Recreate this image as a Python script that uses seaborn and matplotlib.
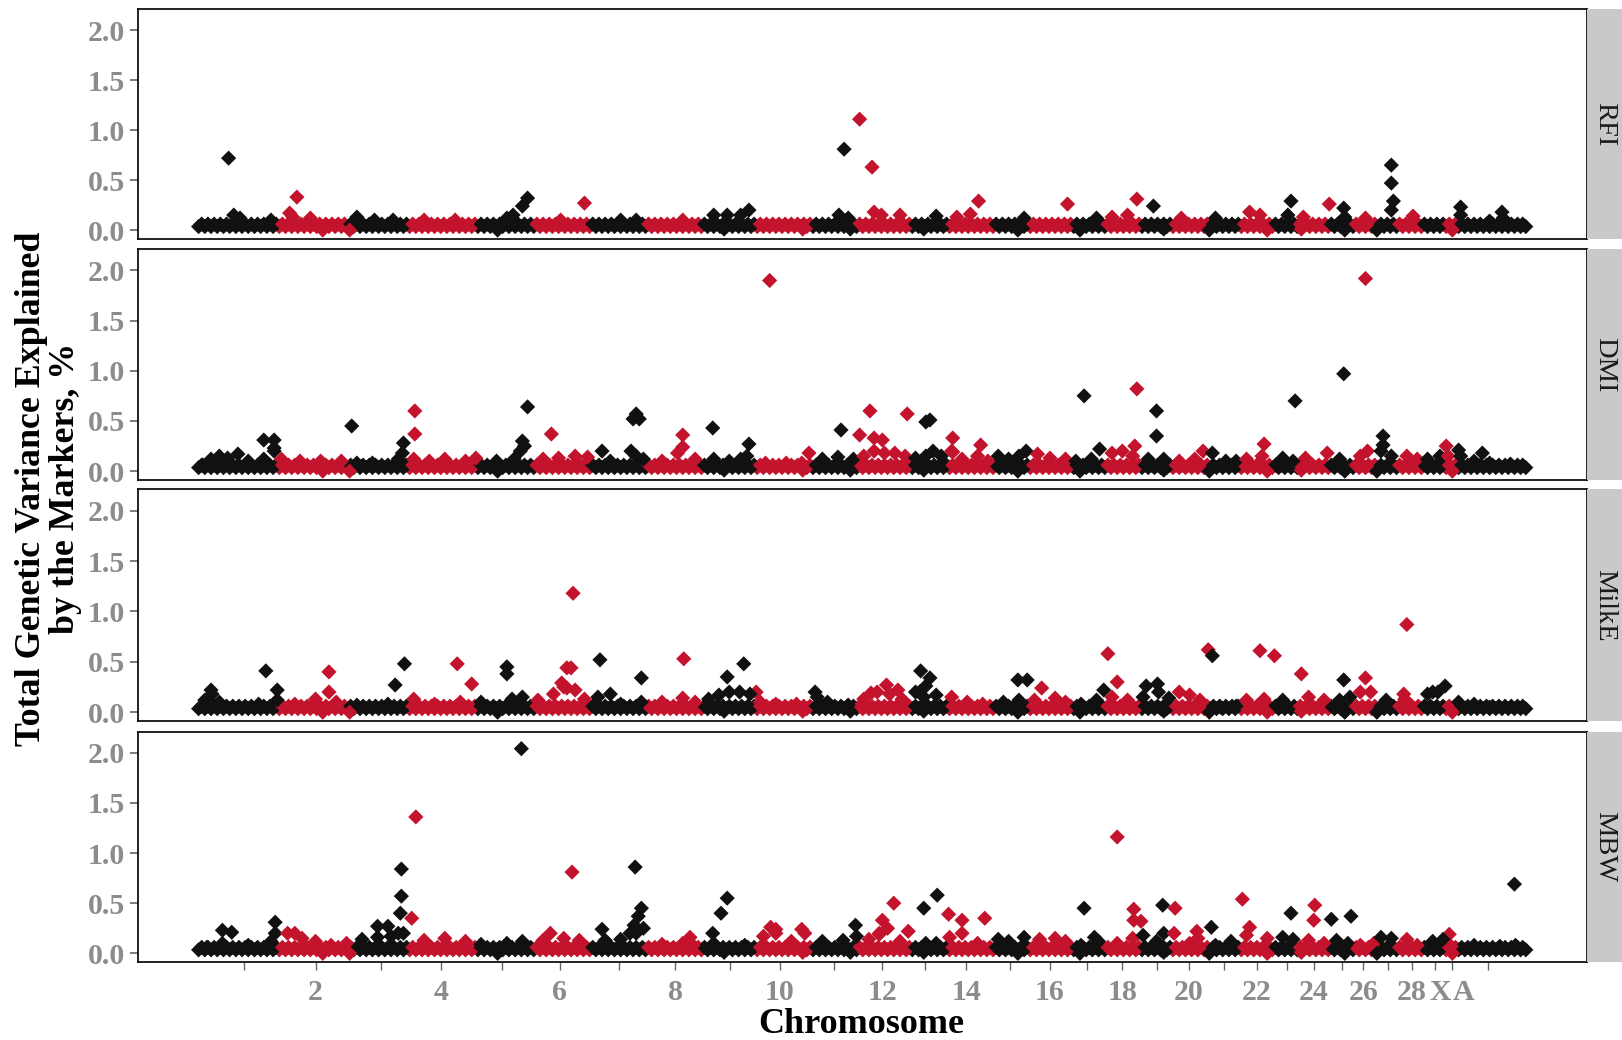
# manhattan plot, 4 traits, variance explained per marker window
import numpy as np
import pandas as pd
import seaborn as sns
import matplotlib.pyplot as plt
from matplotlib.transforms import ScaledTranslation

sns.set_theme(style="white")
plt.rcParams['font.family'] = ['Liberation Serif', 'DejaVu Serif']

# ── data ───────────────────────────────────────────
TRAITS = ["RFI", "DMI", "MilkE", "MBW"]

# end position of each chromosome, colours alternate black / red
chrom_ends = [268, 338, 393, 460, 516, 570, 625, 680, 730, 785, 830, 880, 915, 960, 993, 1035,
              1068, 1103, 1133, 1168, 1199, 1232, 1256, 1285, 1309, 1330, 1352, 1375, 1397, 1408, 1480]

x_ticks = [236, 305, 368, 426, 485, 541, 598, 653, 706, 754, 806, 853, 894, 934, 976, 1015, 1051,
           1085, 1118, 1149, 1183, 1215, 1244, 1270, 1297, 1318, 1342, 1365, 1387, 1404, 1438]
x_labels = ["", "2", "", "4", "", "6", "", "8", "", "10", "", "12", "", "14", "", "16", "",
            "18", "", "20", "", "22", "", "24", "", "26", "", "28", "X", "A", ""]
y_ticks = [0.0, 0.5, 1.0, 1.5, 2.0]

# dense low band, same for all panels
base_x = [192, 198, 204, 210, 216, 222, 228, 234, 240, 246, 252, 258, 264, 270, 276, 282, 288, 294,
          300, 306, 312, 318, 324, 330, 336, 342, 348, 354, 360, 366, 372, 378, 384, 390, 396, 402,
          408, 414, 420, 426, 432, 438, 444, 450, 456, 462, 468, 474, 480, 486, 492, 498, 504, 510,
          516, 522, 528, 534, 540, 546, 552, 558, 564, 570, 576, 582, 588, 594, 600, 606, 612, 618,
          624, 630, 636, 642, 648, 654, 660, 666, 672, 678, 684, 690, 696, 702, 708, 714, 720, 726,
          732, 738, 744, 750, 756, 762, 768, 774, 780, 786, 792, 798, 804, 810, 816, 822, 828, 834,
          840, 846, 852, 858, 864, 870, 876, 882, 888, 894, 900, 906, 912, 918, 924, 930, 936, 942,
          948, 954, 960, 966, 972, 978, 984, 990, 996, 1002, 1008, 1014, 1020, 1026, 1032, 1038,
          1044, 1050, 1056, 1062, 1068, 1074, 1080, 1086, 1092, 1098, 1104, 1110, 1116, 1122, 1128,
          1134, 1140, 1146, 1152, 1158, 1164, 1170, 1176, 1182, 1188, 1194, 1200, 1206, 1212, 1218,
          1224, 1230, 1236, 1242, 1248, 1254, 1260, 1266, 1272, 1278, 1284, 1290, 1296, 1302, 1308,
          1314, 1320, 1326, 1332, 1338, 1344, 1350, 1356, 1362, 1368, 1374, 1380, 1386, 1392, 1398,
          1404, 1410, 1416, 1422, 1428, 1434, 1440, 1446, 1452, 1458, 1464, 1470, 1475]
base_x2 = [195, 201, 207, 213, 219, 225, 231, 237, 243, 249, 255, 261, 267, 273, 279, 285, 291, 297,
           303, 309, 315, 321, 327, 333, 339, 345, 351, 357, 363, 369, 375, 381, 387, 393, 399, 405,
           411, 417, 423, 429, 435, 441, 447, 453, 459, 465, 471, 477, 483, 489, 495, 501, 507, 513,
           519, 525, 531, 537, 543, 549, 555, 561, 567, 573, 579, 585, 591, 597, 603, 609, 615, 621,
           627, 633, 639, 645, 651, 657, 663, 669, 675, 681, 687, 693, 699, 705, 711, 717, 723, 729,
           735, 741, 747, 753, 759, 765, 771, 777, 783, 789, 795, 801, 807, 813, 819, 825, 831, 837,
           843, 849, 855, 861, 867, 873, 879, 885, 891, 897, 903, 909, 915, 921, 927, 933, 939, 945,
           951, 957, 963, 969, 975, 981, 987, 993, 999, 1005, 1011, 1017, 1023, 1029, 1035, 1041,
           1047, 1053, 1059, 1065, 1071, 1077, 1083, 1089, 1095, 1101, 1107, 1113, 1119, 1125, 1131,
           1137, 1143, 1149, 1155, 1161, 1167, 1173, 1179, 1185, 1191, 1197, 1203, 1209, 1215, 1221,
           1227, 1233, 1239, 1245, 1251, 1257, 1263, 1269, 1275, 1281, 1287, 1293, 1299, 1305, 1311,
           1317, 1323, 1329, 1335, 1341, 1347, 1353, 1359, 1365, 1371, 1377, 1383, 1389, 1395, 1401,
           1407, 1413, 1419, 1425, 1431, 1437, 1443, 1449, 1455, 1461, 1467, 1472]
BASE_LOW = 0.035
BASE_HIGH = 0.06

# single low markers dipping under the band
dips = [(312, .0), (338, .0), (481, .0), (700, .01), (776, .01), (822, .01), (893, .01), (984, .0),
        (1044, .0), (1125, .01), (1169, .0), (1225, .0), (1258, .01), (1300, .0), (1331, .0), (1404, .0)]

# (position, % variance) peaks and ridges read per panel
rfi_points = [
    (221, .72), (287, .33), (510, .32), (505, .24), (565, .27), (816, .81), (831, 1.11), (843, .63),
    (946, .29), (1032, .26), (1099, .31), (1115, .24), (1248, .29), (1285, .26), (1299, .22),
    (1345, .65), (1345, .47), (1347, .29), (1345, .2), (1412, .23), (1452, .18),
    (226, .15), (232, .12), (262, .1), (280, .17), (283, .13), (300, .12), (345, .13), (362, .1),
    (380, .1), (410, .1), (440, .1), (490, .12), (496, .15), (542, .1), (600, .1), (615, .1),
    (660, .1), (690, .15), (703, .15), (716, .15), (724, .2), (811, .15), (820, .12), (845, .18),
    (852, .15), (870, .15), (905, .14), (925, .13), (938, .16), (990, .12), (1060, .12), (1075, .13),
    (1090, .15), (1142, .12), (1175, .12), (1208, .18), (1218, .15), (1245, .15), (1260, .13),
    (1300, .13), (1320, .12), (1366, .14), (1412, .15), (1453, .12), (1440, .09),
]
dmi_points = [
    (744, 1.90), (1320, 1.92), (1299, .97), (1048, .75), (1099, .82), (1118, .60), (1118, .35),
    (1097, .25), (1252, .70), (401, .60), (401, .37), (340, .45), (510, .64), (505, .3), (533, .37),
    (615, .57), (612, .52), (618, .52), (660, .36), (660, .24), (689, .43), (724, .27), (813, .41),
    (841, .60), (831, .36), (845, .33), (853, .31), (877, .57), (895, .49), (899, .51), (921, .33),
    (921, .19), (948, .26), (255, .31), (265, .31), (265, .23), (390, .28), (389, .18), (1222, .27),
    (1337, .35), (1337, .26), (1398, .25), (1410, .21), (1433, .18),
    (196, .06), (204, .12), (212, .15), (220, .13), (230, .17), (240, .1), (255, .12), (265, .2),
    (272, .12), (290, .1), (310, .1), (330, .1), (345, .08), (360, .08), (385, .12), (400, .12),
    (415, .1), (430, .12), (450, .1), (460, .13), (480, .1), (497, .12), (503, .2), (507, .25),
    (525, .12), (540, .13), (556, .15), (568, .14), (582, .2), (590, .1), (610, .2), (615, .15),
    (622, .12), (640, .1), (655, .18), (672, .12), (690, .12), (705, .1), (716, .12), (722, .15),
    (740, .08), (760, .08), (775, .08), (782, .18), (795, .12), (810, .14), (825, .12), (835, .15),
    (845, .2), (855, .18), (865, .18), (875, .15), (885, .13), (895, .15), (902, .2), (910, .15),
    (920, .2), (930, .12), (945, .15), (955, .1), (965, .15), (975, .12), (985, .15), (992, .2),
    (1003, .17), (1015, .13), (1030, .12), (1040, .1), (1055, .12), (1063, .22), (1075, .18),
    (1085, .2), (1095, .15), (1110, .12), (1125, .12), (1140, .1), (1155, .12), (1163, .2),
    (1172, .18), (1185, .1), (1195, .1), (1205, .12), (1220, .15), (1240, .13), (1250, .1),
    (1262, .13), (1283, .18), (1295, .12), (1315, .15), (1322, .2), (1335, .2), (1345, .15),
    (1360, .15), (1370, .12), (1380, .12), (1392, .15), (1400, .15), (1412, .15), (1425, .1),
    (1440, .08), (1460, .07),
]
milke_points = [
    (554, 1.18), (1360, .87), (257, .41), (268, .22), (318, .40), (318, .2), (382, .27), (391, .48),
    (442, .48), (456, .28), (490, .45), (490, .38), (580, .52), (548, .44), (552, .44), (543, .29),
    (548, .24), (620, .34), (661, .53), (703, .35), (719, .48), (731, .2), (890, .41), (899, .34),
    (895, .26), (889, .2), (842, .19), (857, .27), (868, .22), (984, .32), (993, .32), (1007, .24),
    (1071, .58), (1080, .3), (1067, .22), (1108, .26), (1119, .28), (1168, .62), (1172, .56),
    (1218, .61), (1232, .56), (1258, .38), (1299, .32), (1320, .34), (1357, .18), (1397, .26),
    (1385, .2), (788, .2), (204, .22),
    (198, .12), (205, .18), (212, .1), (250, .08), (268, .12), (285, .08), (305, .13), (325, .1),
    (345, .07), (375, .08), (400, .13), (420, .08), (445, .1), (465, .1), (495, .13), (505, .15),
    (520, .12), (535, .18), (545, .25), (556, .22), (565, .13), (578, .15), (590, .18), (600, .08),
    (620, .1), (640, .1), (660, .14), (672, .1), (685, .13), (695, .17), (705, .2), (715, .2),
    (725, .18), (735, .1), (750, .08), (770, .08), (790, .15), (800, .1), (820, .07), (835, .13),
    (848, .2), (860, .18), (872, .13), (885, .2), (893, .15), (905, .17), (920, .15), (935, .1),
    (950, .08), (970, .1), (985, .12), (1000, .12), (1020, .14), (1030, .1), (1045, .08), (1060, .12),
    (1075, .15), (1090, .12), (1105, .15), (1120, .2), (1130, .14), (1140, .2), (1150, .17),
    (1160, .12), (1180, .05), (1195, .06), (1205, .12), (1222, .13), (1240, .12), (1265, .15),
    (1280, .12), (1295, .12), (1305, .15), (1315, .2), (1325, .2), (1340, .12), (1358, .13),
    (1380, .18), (1390, .2), (1410, .1), (1425, .08), (1440, .05),
]
mbw_points = [
    (504, 2.04), (402, 1.36), (1080, 1.16), (388, .84), (388, .57), (387, .40), (398, .35), (614, .86),
    (553, .81), (1464, .69), (703, .55), (697, .40), (689, .2), (620, .45), (617, .37), (613, .28),
    (609, .2), (864, .5), (906, .58), (893, .45), (917, .39), (930, .33), (952, .35), (1048, .45),
    (1096, .44), (1096, .33), (1103, .32), (1124, .48), (1136, .45), (1201, .54), (1208, .26),
    (1248, .40), (1271, .48), (1270, .33), (1287, .34), (1306, .37), (1401, .19), (1171, .26),
    (1157, .22), (850, .19), (853, .33), (827, .28), (266, .31), (266, .2), (215, .23), (224, .21),
    (365, .27), (375, .27), (532, .2), (582, .24), (745, .26), (750, .24), (775, .24), (667, .16),
    (878, .22),
    (200, .06), (215, .1), (240, .08), (262, .12), (278, .2), (285, .2), (292, .15), (305, .12),
    (320, .08), (335, .1), (350, .14), (365, .16), (378, .17), (385, .2), (390, .2), (410, .13),
    (430, .15), (450, .12), (465, .09), (490, .1), (505, .12), (525, .13), (545, .15), (560, .13),
    (585, .13), (600, .14), (615, .2), (622, .25), (640, .09), (660, .1), (670, .08), (690, .1),
    (720, .08), (738, .17), (750, .2), (765, .12), (778, .2), (795, .12), (815, .13), (828, .17),
    (840, .14), (850, .2), (858, .25), (870, .12), (895, .1), (905, .1), (918, .16), (930, .2),
    (945, .1), (965, .14), (975, .12), (990, .16), (1005, .14), (1020, .15), (1030, .12), (1045, .08),
    (1058, .16), (1062, .12), (1080, .1), (1095, .15), (1105, .18), (1118, .12), (1125, .2),
    (1135, .2), (1150, .1), (1158, .15), (1175, .08), (1190, .12), (1205, .18), (1225, .15),
    (1240, .16), (1250, .14), (1265, .13), (1280, .1), (1292, .13), (1303, .1), (1315, .08),
    (1328, .1), (1335, .16), (1345, .15), (1360, .14), (1370, .08), (1385, .12), (1395, .14),
    (1403, .07), (1425, .08), (1450, .07), (1465, .08),
]
trait_points = {"RFI": rfi_points, "DMI": dmi_points, "MilkE": milke_points, "MBW": mbw_points}

# ── layout (measured on 1568x1005 view) ────────────
W, H = 1568, 1005
LEFT, RIGHT, STRIP_R = 133, 1534, 1568
panel_rows = [(9, 231), (241, 464), (473, 697), (707, 930)]
palette = {"black": "#111111", "red": "#c4142d"}
GREY = "#8c8c8c"

fig = plt.figure(figsize=(16.22, 10.4), dpi=100)

for i, trait in enumerate(TRAITS):
    top, bottom = panel_rows[i]
    ax = fig.add_axes([LEFT / W, 1 - bottom / H, (RIGHT - LEFT) / W, (bottom - top) / H])

    px, py = zip(*(trait_points[trait] + dips))
    df = pd.DataFrame({
        "pos": base_x + base_x2 + list(px),
        "var": [BASE_LOW] * len(base_x) + [BASE_HIGH] * len(base_x2) + list(py),
    })
    df["chrom"] = np.searchsorted(chrom_ends, df["pos"])
    df["group"] = np.where(df["chrom"] % 2 == 0, "black", "red")

    sns.scatterplot(data=df, x="pos", y="var", hue="group", palette=palette, marker="D",
                    s=60, linewidth=0, alpha=1, legend=False, ax=ax, clip_on=False)

    ax.set_xlim(LEFT, RIGHT)
    ax.set_ylim(-0.09, 2.21)
    ax.set_xlabel("")
    ax.set_ylabel("")
    ax.set_yticks(y_ticks)
    ax.set_yticklabels([f"{v:.1f}" for v in y_ticks], fontsize=21.5, fontweight="bold", color=GREY)
    ax.tick_params(axis="y", left=True, length=6, width=1.2, color="#666666", pad=3)
    if i == len(TRAITS) - 1:
        ax.set_xticks(x_ticks)
        ax.set_xticklabels(x_labels, fontsize=21.5, fontweight="bold", color=GREY)
        ax.tick_params(axis="x", bottom=True, length=6, width=1.0, color="#666666", pad=6)
        # 28, X and A sit tight together, nudge so they don't collide
        for lab in ax.get_xticklabels():
            if lab.get_text() == "X":
                lab.set_transform(lab.get_transform() + ScaledTranslation(4 / 72, 0, fig.dpi_scale_trans))
            if lab.get_text() == "A":
                lab.set_ha("left")
    else:
        ax.set_xticks([])
    for side in ax.spines.values():
        side.set_visible(True)
        side.set_color("#111111")
        side.set_linewidth(1.3)

    # strip on the right
    strip = fig.add_axes([RIGHT / W, 1 - bottom / H, (STRIP_R - RIGHT) / W, (bottom - top) / H])
    strip.set_facecolor("#c9c9c9")
    strip.set_xticks([])
    strip.set_yticks([])
    for side in strip.spines.values():
        side.set_visible(False)
    strip.text(0.5, 0.5, trait, rotation=-90, ha="center", va="center", fontsize=20.5,
               color="#1a1a1a", transform=strip.transAxes)

fig.text(833 / W, 1 - 990 / H, "Chromosome", ha="center", va="center", fontsize=26,
         fontweight="bold", color="black")
fig.text(47 / W, 1 - 472 / H, "Total Genetic Variance Explained\nby the Markers, %", rotation=90,
         ha="center", va="center", fontsize=25.8, fontweight="bold", color="black", linespacing=1.05)

fig.savefig("out.png", dpi=100)
